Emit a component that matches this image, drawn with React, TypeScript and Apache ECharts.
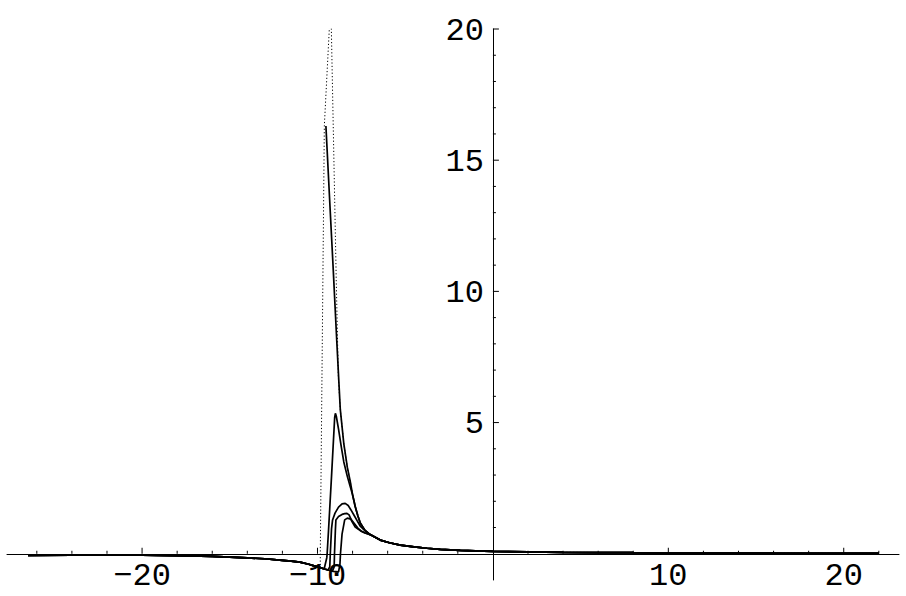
import React, { useEffect, useRef } from "react";
import * as echarts from "echarts";

// ---- axis ticks & labels ----
const xTickValues = [-26, -24, -22, -20, -18, -16, -14, -12, -10, -8, -6, -4, -2, 2, 4, 6, 8, 10, 12, 14, 16, 18, 20, 22];
const xLabelValues = [-20, -10, 10, 20];
const xLabelTexts = ["\u221220", "\u221210", "10", "20"];
const yTickValues = [1, 2, 3, 4, 5, 6, 7, 8, 9, 10, 11, 12, 13, 14, 15, 16, 17, 18, 19, 20];
const yLabelValues = [5, 10, 15, 20];
const yLabelTexts = ["5", "10", "15", "20"];

// ---- shared pieces of the curves ----
const leftTail: number[][] = [
  [-26.5, -0.06], [-24, -0.055], [-22, -0.05], [-20, -0.055], [-18, -0.07], [-16, -0.1],
  [-15, -0.13], [-14, -0.16], [-13, -0.19], [-12, -0.25], [-11.5, -0.28], [-11, -0.32],
  [-10.5, -0.4], [-10.2, -0.46], [-10, -0.5], [-9.84, -0.53],
];
const upperBundle: number[][] = [
  [-8.7, 5.5], [-8.5, 4.2], [-8.3, 3.3], [-8.13, 2.75], [-8.0, 2.25], [-7.85, 1.8],
  [-7.7, 1.45], [-7.56, 1.17], [-7.3, 0.9],
];
const rightTail: number[][] = [
  [-7.0, 0.73], [-6.42, 0.52], [-5.9, 0.42], [-5.28, 0.33], [-4.5, 0.26], [-3.76, 0.21],
  [-3, 0.17], [-1.86, 0.13], [-1, 0.11], [0, 0.09], [2, 0.07], [4, 0.056], [6, 0.047],
  [8, 0.04], [10, 0.034], [13, 0.028], [16, 0.023], [19, 0.019], [22, 0.016],
];

// ---- individual curve segments ----
const curve1Mid: number[][] = [
  [-9.84, 0], [-9.61, 16.3], [-9.25, 21], [-9.21, 20], [-8.93, 10.4], [-8.81, 6.7],
];
const curve2Mid: number[][] = [
  [-9.52, 16.3], [-9.3, 13.4], [-9.1, 10.8], [-8.9, 8.1],
];
const curve3Mid: number[][] = [
  [-9.62, -0.58], [-9.47, -0.15], [-9.45, 0], [-9.37, 0.9], [-9.2, 2.95], [-9.06, 4.7],
  [-9.02, 5.2], [-8.98, 5.35], [-8.93, 5.25], [-8.8, 4.75], [-8.65, 4.1], [-8.5, 3.5],
  [-8.3, 2.95], [-8.13, 2.55],
];
const curve3Tail: number[][] = [
  [-8.0, 2.25], [-7.85, 1.8], [-7.7, 1.45], [-7.56, 1.17], [-7.3, 0.9],
];
const curve4Mid: number[][] = [
  [-9.6, -0.58], [-9.4, -0.62], [-9.3, -0.5], [-9.27, 0], [-9.2, 0.95], [-9.14, 1.29],
  [-9.0, 1.55], [-8.8, 1.78], [-8.6, 1.9], [-8.42, 1.92], [-8.25, 1.84], [-8.1, 1.68],
  [-7.9, 1.45], [-7.75, 1.27], [-7.56, 1.05], [-7.3, 0.88],
];
const curve5Mid: number[][] = [
  [-9.6, -0.58], [-9.35, -0.63], [-9.15, -0.66], [-9.05, -0.5], [-9.03, 0], [-8.98, 0.9],
  [-8.95, 1.29], [-8.8, 1.42], [-8.6, 1.5], [-8.45, 1.53], [-8.32, 1.54], [-8.2, 1.48],
  [-8.05, 1.25], [-7.85, 1.02], [-7.56, 0.88], [-7.3, 0.8],
];
const curve6Mid: number[][] = [
  [-9.6, -0.58], [-9.35, -0.63], [-9.1, -0.67], [-8.8, -0.69], [-8.72, -0.4], [-8.69, 0],
  [-8.6, 0.75], [-8.45, 1.29], [-8.3, 1.36], [-8.1, 1.32], [-7.9, 1.15], [-7.7, 0.98],
  [-7.5, 0.86], [-7.3, 0.79],
];

const X_MIN = -27.7;
const X_MAX = 23.15;
const Y_MIN = -1;
const Y_MAX = 20;

const FONT = '"Liberation Mono", "DejaVu Sans Mono", monospace';
const FONT_SIZE = 32;

export default function App() {
  const ref = useRef<HTMLDivElement>(null);

  useEffect(() => {
    if (!ref.current) return;
    const chart = echarts.init(ref.current, undefined, { renderer: "svg" });

    const curve1 = [...leftTail, ...curve1Mid, ...upperBundle, ...rightTail];
    const curve2 = [...leftTail, [-9.7, null], ...curve2Mid, ...upperBundle, ...rightTail];
    const curve3 = [...leftTail, ...curve3Mid, ...curve3Tail, ...rightTail];
    const curve4 = [...leftTail, ...curve4Mid, ...rightTail];
    const curve5 = [...leftTail, ...curve5Mid, ...rightTail];
    const curve6 = [...leftTail, ...curve6Mid, ...rightTail];

    const solid = (name: string, data: any[]) => ({
      name,
      type: "line",
      data,
      showSymbol: false,
      symbol: "none",
      connectNulls: false,
      lineStyle: { color: "#000", width: 1.7 },
      silent: true,
      z: 3,
    });

    const option: any = {
      animation: false,
      backgroundColor: "#fff",
      grid: { left: 7, right: 7, top: 29, bottom: 16, containLabel: false },
      xAxis: {
        type: "value",
        min: X_MIN,
        max: X_MAX,
        axisLine: { show: true, onZero: true, lineStyle: { color: "#000", width: 1 } },
        axisTick: { show: false },
        axisLabel: { show: false },
        splitLine: { show: false },
      },
      yAxis: {
        type: "value",
        min: Y_MIN,
        max: Y_MAX,
        axisLine: { show: true, onZero: true, lineStyle: { color: "#000", width: 1 } },
        axisTick: { show: false },
        axisLabel: { show: false },
        splitLine: { show: false },
      },
      series: [
        {
          name: "limit",
          type: "line",
          data: curve1,
          showSymbol: false,
          symbol: "none",
          lineStyle: { color: "#000", width: 1, type: [1.2, 2.2] },
          silent: true,
          z: 2,
        },
        solid("c2", curve2),
        solid("c3", curve3),
        solid("c4", curve4),
        solid("c5", curve5),
        solid("c6", curve6),
        {
          name: "xticks",
          type: "custom",
          coordinateSystem: "cartesian2d",
          data: xTickValues.map((v) => [v, 0]),
          encode: { x: 0, y: 1 },
          silent: true,
          clip: false,
          z: 5,
          renderItem: (params: any, api: any) => {
            const v = api.value(0);
            const p = api.coord([v, 0]);
            const len = v % 10 === 0 ? 6 : 3;
            return {
              type: "line",
              shape: { x1: p[0], y1: p[1], x2: p[0], y2: p[1] - len },
              style: { stroke: "#000", lineWidth: 1 },
            };
          },
        },
        {
          name: "yticks",
          type: "custom",
          coordinateSystem: "cartesian2d",
          data: yTickValues.map((v) => [0, v]),
          encode: { x: 0, y: 1 },
          silent: true,
          clip: false,
          z: 5,
          renderItem: (params: any, api: any) => {
            const v = api.value(1);
            const p = api.coord([0, v]);
            const len = v % 5 === 0 ? 6 : 3;
            return {
              type: "line",
              shape: { x1: p[0], y1: p[1], x2: p[0] + len, y2: p[1] },
              style: { stroke: "#000", lineWidth: 1 },
            };
          },
        },
        {
          name: "xlabels",
          type: "custom",
          coordinateSystem: "cartesian2d",
          data: xLabelValues.map((v, i) => [v, 0, i]),
          encode: { x: 0, y: 1 },
          silent: true,
          clip: false,
          z: 5,
          renderItem: (params: any, api: any) => {
            const p = api.coord([api.value(0), 0]);
            return {
              type: "text",
              x: p[0],
              y: p[1] + 23,
              style: {
                text: xLabelTexts[api.value(2)],
                fill: "#000",
                fontSize: FONT_SIZE,
                fontFamily: FONT,
                align: "center",
                verticalAlign: "middle",
              },
            };
          },
        },
        {
          name: "ylabels",
          type: "custom",
          coordinateSystem: "cartesian2d",
          data: yLabelValues.map((v, i) => [0, v, i]),
          encode: { x: 0, y: 1 },
          silent: true,
          clip: false,
          z: 5,
          renderItem: (params: any, api: any) => {
            const p = api.coord([0, api.value(1)]);
            return {
              type: "text",
              x: p[0] - 9,
              y: p[1] + 2,
              style: {
                text: yLabelTexts[api.value(2)],
                fill: "#000",
                fontSize: FONT_SIZE,
                fontFamily: FONT,
                align: "right",
                verticalAlign: "middle",
              },
            };
          },
        },
      ],
    };

    chart.setOption(option);
    return () => chart.dispose();
  }, []);

  return (
    <div
      ref={ref}
      style={{ position: "fixed", left: 0, top: 0, width: 906, height: 596, background: "#fff" }}
    />
  );
}
